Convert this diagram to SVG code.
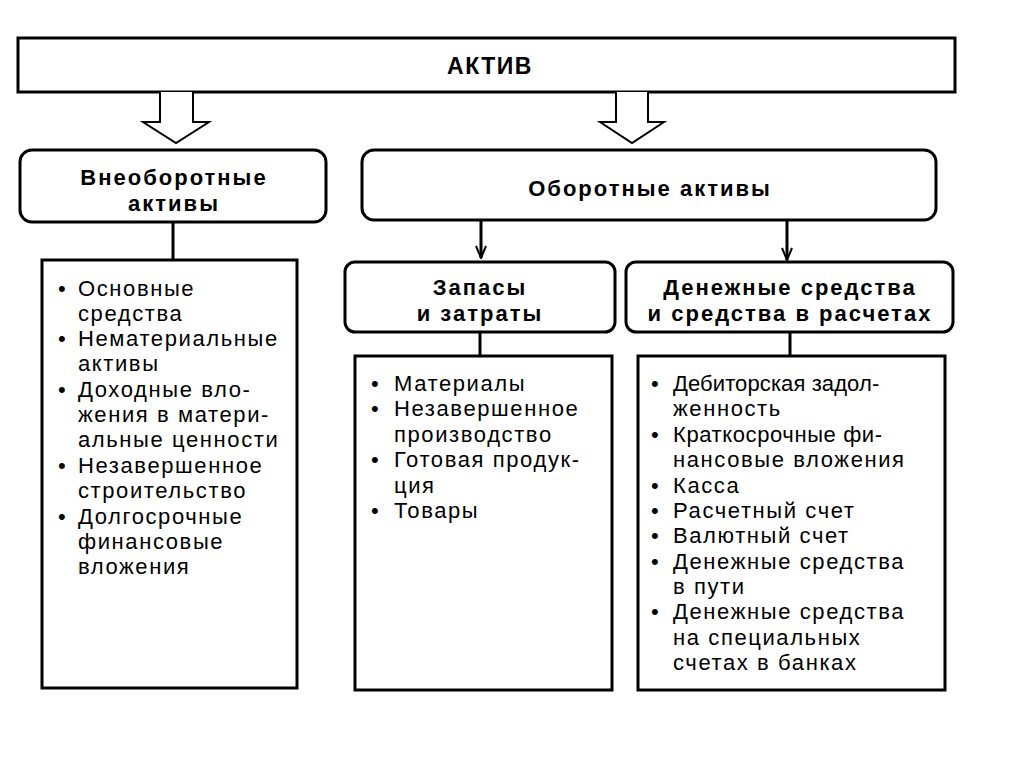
<svg xmlns="http://www.w3.org/2000/svg" width="1024" height="767" viewBox="0 0 1024 767">
<style>
.box{fill:#fff;stroke:#000;stroke-width:3}
.hdr{font-family:"Liberation Sans",Arial,sans-serif;font-weight:bold;font-size:22px;letter-spacing:2px;fill:#000;text-anchor:middle}
.lst{font-family:"Liberation Sans",Arial,sans-serif;font-size:22px;letter-spacing:1.6px;fill:#000}
.ln{stroke:#000;stroke-width:3;fill:none}
.hollow{fill:#fff;stroke:#000;stroke-width:2}
</style>
<defs>
<marker id="ah" viewBox="0 0 14 12" refX="13" refY="6" markerWidth="14" markerHeight="12" orient="auto" markerUnits="userSpaceOnUse">
<path d="M1,1 L13,6 L1,11" fill="none" stroke="#000" stroke-width="2"/>
</marker>
</defs>
<rect width="1024" height="767" fill="#fff"/>

<g id="aktiv">
<rect class="box" x="18" y="38" width="937" height="54"/>
<text class="hdr" x="490" y="74" style="font-size:23px;letter-spacing:1.5px">АКТИВ</text>
</g>

<g id="connectors">
<path class="hollow" d="M160,92 V122 H143 L176,143 L209,122 H193 V92"/>
<path class="hollow" d="M616,92 V122 H600 L632,143 L664,122 H648 V92"/>
<line class="ln" x1="173" y1="222" x2="173" y2="260"/>
<line class="ln" x1="481" y1="220" x2="481" y2="258" stroke-width="2" marker-end="url(#ah)"/>
<line class="ln" x1="787" y1="220" x2="787" y2="260" stroke-width="2" marker-end="url(#ah)"/>
<line class="ln" x1="480" y1="332" x2="480" y2="356" stroke-width="2"/>
<line class="ln" x1="790" y1="332" x2="790" y2="356"/>
</g>

<g id="vneob">
<rect class="box" x="20" y="150" width="306" height="72" rx="12"/>
<text class="hdr" x="174" y="185">Внеоборотные</text>
<text class="hdr" x="174" y="211">активы</text>
</g>

<g id="oborot">
<rect class="box" x="362" y="150" width="574" height="70" rx="12"/>
<text class="hdr" x="650" y="196">Оборотные активы</text>
</g>

<g id="zapasy">
<rect class="box" x="345" y="262" width="270" height="70" rx="10"/>
<text class="hdr" x="480" y="295">Запасы</text>
<text class="hdr" x="480" y="321">и затраты</text>
</g>

<g id="denezh">
<rect class="box" x="626" y="262" width="327" height="70" rx="10"/>
<text class="hdr" x="790" y="295">Денежные средства</text>
<text class="hdr" x="790" y="321">и средства в расчетах</text>
</g>

<g id="list-vneob">
<rect class="box" x="42" y="260" width="255" height="428"/>
<g class="lst">
<text x="58" y="296">•</text><text x="78" y="296">Основные</text>
<text x="78" y="321">средства</text>
<text x="58" y="346">•</text><text x="78" y="346">Нематериальные</text>
<text x="78" y="371">активы</text>
<text x="58" y="397">•</text><text x="78" y="397">Доходные вло-</text>
<text x="78" y="422">жения в матери-</text>
<text x="78" y="447">альные ценности</text>
<text x="58" y="473">•</text><text x="78" y="473">Незавершенное</text>
<text x="78" y="498">строительство</text>
<text x="58" y="524">•</text><text x="78" y="524">Долгосрочные</text>
<text x="78" y="549">финансовые</text>
<text x="78" y="574">вложения</text>
</g>
</g>

<g id="list-zapasy">
<rect class="box" x="355" y="356" width="257" height="334"/>
<g class="lst">
<text x="371" y="391">•</text><text x="394" y="391">Материалы</text>
<text x="371" y="416">•</text><text x="394" y="416">Незавершенное</text>
<text x="394" y="442">производство</text>
<text x="371" y="467">•</text><text x="394" y="467">Готовая продук-</text>
<text x="394" y="493">ция</text>
<text x="371" y="518">•</text><text x="394" y="518">Товары</text>
</g>
</g>

<g id="list-denezh">
<rect class="box" x="638" y="356" width="307" height="334"/>
<g class="lst">
<text x="651" y="391">•</text><text x="673" y="391" style="letter-spacing:0.1px">Дебиторская задол-</text>
<text x="673" y="416">женность</text>
<text x="651" y="442">•</text><text x="673" y="442" style="letter-spacing:0.6px">Краткосрочные фи-</text>
<text x="673" y="467">нансовые вложения</text>
<text x="651" y="493">•</text><text x="673" y="493">Касса</text>
<text x="651" y="518">•</text><text x="673" y="518">Расчетный счет</text>
<text x="651" y="543">•</text><text x="673" y="543">Валютный счет</text>
<text x="651" y="569">•</text><text x="673" y="569">Денежные средства</text>
<text x="673" y="594">в пути</text>
<text x="651" y="619">•</text><text x="673" y="619">Денежные средства</text>
<text x="673" y="645">на специальных</text>
<text x="673" y="670">счетах в банках</text>
</g>
</g>
</svg>
